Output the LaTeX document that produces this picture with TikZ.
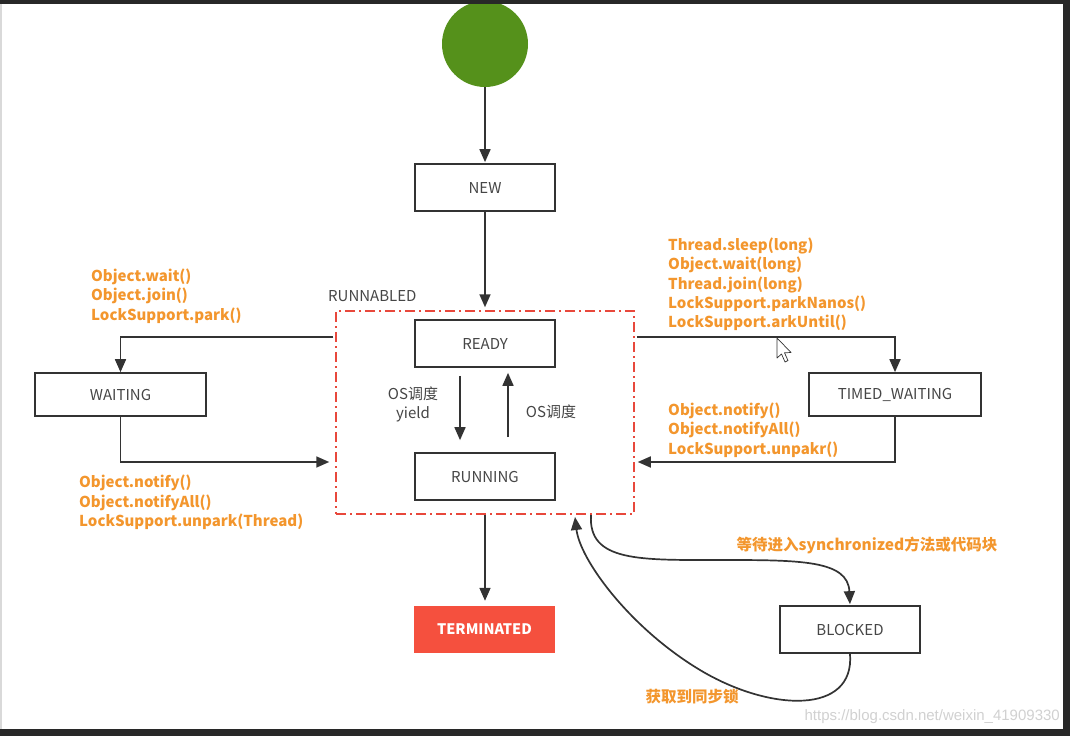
\documentclass[tikz,border=0pt]{standalone}
\usepackage{fontspec}
\setmainfont{Noto Sans CJK SC}
\newfontfamily\wmfont{Liberation Sans}
\usetikzlibrary{arrows.meta}
\definecolor{frame}{RGB}{40,40,40}
\definecolor{linec}{RGB}{51,51,51}
\definecolor{boxtext}{RGB}{70,70,70}
\definecolor{orangec}{RGB}{243,150,45}
\definecolor{redd}{RGB}{232,72,60}
\definecolor{termc}{RGB}{245,80,62}
\definecolor{startc}{RGB}{85,145,27}
\tikzset{
  state/.style={draw=linec, line width=1.7pt, fill=white, minimum width=140pt, minimum height=47pt, inner sep=0pt, text=boxtext, font=\fontsize{15}{18}\selectfont},
  arr/.style={draw=linec, line width=1.7pt, -{Triangle[length=13pt,width=11pt]}},
  lbl/.style={text=orangec, font=\fontsize{15}{19.3}\selectfont\bfseries, align=left, inner sep=0pt},
  glbl/.style={text=boxtext, font=\fontsize{15}{19}\selectfont, inner sep=0pt},
}
\begin{document}
\begin{tikzpicture}[x=1pt,y=-1pt]
\useasboundingbox (0,0) rectangle (1070,736);
\fill[frame] (0,0) rectangle (1070,736);
\fill[white] (0,4) rectangle (1063,729);
\draw[black!15, line width=1.2pt] (1,4) -- (1,729);

% start
\node[circle, fill=startc, minimum size=86pt, inner sep=0pt] (start) at (485,44) {};
\fill[frame] (0,0) rectangle (1070,4);

% states
\node[state] (new) at (485,187.5) {NEW};
\node[draw=redd, line width=1.5pt, dash pattern=on 10pt off 4pt on 2pt off 4pt, minimum width=298pt, minimum height=203pt, inner sep=0pt] (runnable) at (485,412.5) {};
\node[glbl, anchor=west] (runlbl) at (328,296) {RUNNABLED};
\node[state] (ready) at (485,343.5) {READY};
\node[state] (running) at (485,476.5) {RUNNING};
\node[state, minimum width=171pt, minimum height=43pt] (waiting) at (120.5,394.5) {WAITING};
\node[state, minimum width=172pt, minimum height=43pt] (timed) at (895,394.5) {TIMED\_WAITING};
\node[fill=termc, minimum width=141pt, minimum height=47pt, inner sep=0pt, text=white, font=\fontsize{14.5}{18}\selectfont\bfseries] (term) at (484.5,629.5) {TERMINATED};
\node[state] (blocked) at (850,629.5) {BLOCKED};

% helper coordinates
\coordinate (yA) at (0,337);
\coordinate (yB) at (0,462);
\coordinate (b1) at (591,515);
\coordinate (b2) at (575,517);

% connectors
\draw[arr, shorten >=1pt] (start) -- (new);
\draw[arr, shorten >=3pt] (new) -- (runnable.north);
\draw[arr, shorten <=8pt, shorten >=12pt] ([xshift=-25pt]ready.south) -- ([xshift=-25pt]running.north);
\draw[arr, shorten <=15pt, shorten >=5pt] ([xshift=23pt]running.north) -- ([xshift=23pt]ready.south);
\draw[arr] ([xshift=-2pt]runnable.west |- yA) -| (waiting.north);
\draw[arr, shorten >=6pt] (waiting.south) |- (runnable.west |- yB);
\draw[arr] ([xshift=2pt]runnable.east |- yA) -| (timed.north);
\draw[arr, shorten >=3pt] (timed.south) |- (runnable.east |- yB);
\draw[arr, shorten >=5pt] (runnable.south) -- (runnable.south |- term.north);
\draw[arr, shorten >=1pt] (b1) .. controls (588,562) and (640,560) .. (720,560) .. controls (800,560) and (848,560) .. (blocked.north);
\draw[arr] (blocked.south) .. controls (855,715) and (770,712) .. (700,670) .. controls (630,628) and (580,560) .. (b2);

% labels
\node[lbl, anchor=west] (l1) at (91,296) {Object.wait()\\Object.join()\\LockSupport.park()};
\node[lbl, anchor=west] (l2) at (79,502.5) {Object.notify()\\Object.notifyAll()\\LockSupport.unpark(Thread)};
\node[lbl, anchor=west] (l3) at (668,284.5) {Thread.sleep(long)\\Object.wait(long)\\Thread.join(long)\\LockSupport.parkNanos()\\LockSupport.arkUntil()};
\node[lbl, anchor=west] (l4) at (668,430) {Object.notify()\\Object.notifyAll()\\LockSupport.unpakr()};
\node[glbl, align=center] (os1) at (413,404.5) {OS调度\\yield};
\node[glbl] (os2) at (551,412) {OS调度};
\node[lbl, font=\fontsize{15.5}{19}\selectfont\bfseries] (sync) at (867,545) {等待进入synchronized方法或代码块};
\node[lbl, font=\fontsize{15.5}{19}\selectfont\bfseries] (lock) at (692,697) {获取到同步锁};

% cursor
\draw[black!80, fill=white, line width=0.7pt, line join=round] (777,338) -- (777,358) -- (781.5,354) -- (785,362) -- (788,360.5) -- (784.5,352.8) -- (791,352.5) -- cycle;

% watermark
\node[text=black!18, font=\wmfont\fontsize{15}{18}\selectfont, anchor=east, inner sep=0pt] (wm) at (1060,717) {https://blog.csdn.net/weixin\_41909330};
\end{tikzpicture}
\end{document}
